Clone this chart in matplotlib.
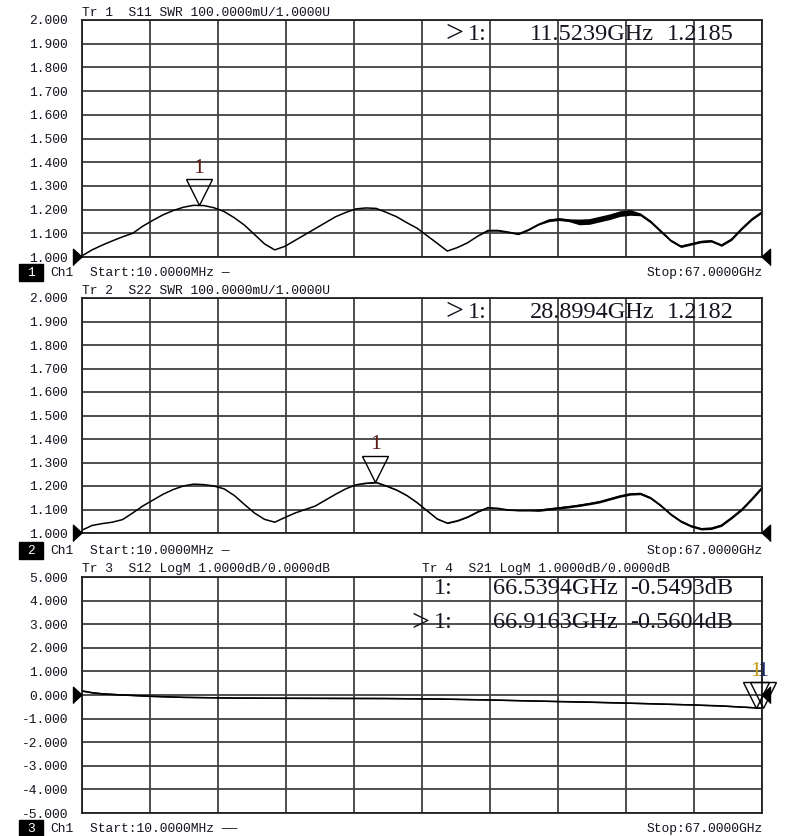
import numpy as np
import matplotlib
matplotlib.use("Agg")
import matplotlib.pyplot as plt
from matplotlib.transforms import ScaledTranslation
from matplotlib.patches import Rectangle

W, H = 785, 836
MONO = "Liberation Mono"
SERIF = "Liberation Serif"
TXT = "#141420"

# ---------------- data ----------------
freq_ghz = [0.01] + list(range(1, 68))

s11_swr = [1.005, 1.030, 1.050, 1.068, 1.085, 1.100, 1.130, 1.155, 1.178, 1.196,
           1.210, 1.218, 1.217, 1.208, 1.192, 1.166, 1.135, 1.095, 1.055, 1.030,
           1.045, 1.070, 1.095, 1.120, 1.145, 1.170, 1.188, 1.203, 1.207, 1.205,
           1.188, 1.170, 1.145, 1.122, 1.090, 1.058, 1.025, 1.040, 1.060, 1.088,
           1.112, 1.112, 1.105, 1.097, 1.115, 1.138, 1.155, 1.160, 1.155, 1.148,
           1.150, 1.160, 1.170, 1.183, 1.188, 1.180, 1.150, 1.110, 1.070, 1.045,
           1.055, 1.065, 1.068, 1.050, 1.075, 1.120, 1.160, 1.190]
s11_noise = [0.0] * 40 + [0.003] * 6 + [0.006] * 3 + [0.012] * 6 + [0.006] * 3 + [0.005] * 10

s22_swr = [1.012, 1.032, 1.040, 1.046, 1.057, 1.085, 1.115, 1.140, 1.165, 1.185,
           1.200, 1.208, 1.206, 1.200, 1.188, 1.160, 1.122, 1.085, 1.058, 1.046,
           1.066, 1.085, 1.100, 1.115, 1.140, 1.165, 1.188, 1.205, 1.212, 1.215,
           1.200, 1.183, 1.160, 1.130, 1.095, 1.060, 1.042, 1.052, 1.068, 1.090,
           1.108, 1.105, 1.098, 1.096, 1.096, 1.097, 1.102, 1.107, 1.112, 1.118,
           1.125, 1.133, 1.145, 1.157, 1.166, 1.168, 1.150, 1.118, 1.080, 1.050,
           1.030, 1.018, 1.020, 1.033, 1.065, 1.100, 1.145, 1.193]
s22_noise = [0.0] * 28 + [0.002] * 17 + [0.005] * 23

logm_freq = [0.01, 1, 2, 4, 7, 10, 15, 20, 25, 30, 35, 40, 45, 50, 55, 60, 63, 66.54, 66.92, 67]
s12_db = [0.18, 0.10, 0.05, 0.00, -0.06, -0.10, -0.13, -0.14, -0.14, -0.15,
          -0.17, -0.21, -0.26, -0.30, -0.36, -0.42, -0.46, -0.549, -0.560, -0.560]
s21_db = [0.16, 0.09, 0.05, 0.00, -0.06, -0.10, -0.13, -0.14, -0.15, -0.15,
          -0.17, -0.21, -0.26, -0.31, -0.36, -0.42, -0.47, -0.549, -0.560, -0.560]

swr_ticks = [2.0, 1.9, 1.8, 1.7, 1.6, 1.5, 1.4, 1.3, 1.2, 1.1, 1.0]
db_ticks = [5.0, 4.0, 3.0, 2.0, 1.0, 0.0, -1.0, -2.0, -3.0, -4.0, -5.0]

headers = ["Tr 1  S11 SWR 100.0000mU/1.0000U",
           "Tr 2  S22 SWR 100.0000mU/1.0000U",
           "Tr 3  S12 LogM 1.0000dB/0.0000dB"]
header4 = "Tr 4  S21 LogM 1.0000dB/0.0000dB"

m1_freq, m1_val = 11.5239, 1.2185
m2_freq, m2_val = 28.8994, 1.2182
m3_freq, m3_val = 66.5394, -0.5493
m4_freq, m4_val = 66.9163, -0.5604

f_start, f_stop = 0.01, 67.0

# ---------------- layout helpers ----------------
fig = plt.figure(figsize=(W / 100, H / 100), dpi=100)
fig.patch.set_facecolor("white")


def rect(l, t, r, b):
    return [l / W, 1 - b / H, (r - l) / W, (b - t) / H]


def fx(x):
    return x / W


def fy(y):
    return 1 - y / H


panels = [(20, 257), (298, 533), (577, 813)]
axes = []
for i, (t, b) in enumerate(panels):
    ax = fig.add_axes(rect(82, t, 762, b))
    ax.set_xlim(f_start, f_stop)
    ax.set_xticks(np.linspace(f_start, f_stop, 11))
    ax.set_xticklabels([])
    if i < 2:
        ax.set_ylim(1.0, 2.0)
        ax.set_yticks(swr_ticks)
        ax.set_yticklabels([f"{v:.3f}" for v in swr_ticks])
    else:
        ax.set_ylim(-5.0, 5.0)
        ax.set_yticks(db_ticks)
        ax.set_yticklabels([f"{v:.3f}" for v in db_ticks])
    ax.tick_params(length=0, pad=10, labelsize=9.4, labelcolor=TXT)
    for lab in ax.get_yticklabels():
        lab.set_fontfamily(MONO)
    ax.grid(True, color="#404040", lw=1.3)
    ax.set_axisbelow(True)
    for s in ax.spines.values():
        s.set_color("#202020")
        s.set_linewidth(1.3)
    axes.append(ax)

ax1, ax2, ax3 = axes

# traces
ax1.fill_between(freq_ghz, np.array(s11_swr) - np.array(s11_noise),
                 np.array(s11_swr) + np.array(s11_noise), color="black", lw=0)
ax1.plot(freq_ghz, s11_swr, color="black", lw=1.1)
ax2.fill_between(freq_ghz, np.array(s22_swr) - np.array(s22_noise),
                 np.array(s22_swr) + np.array(s22_noise), color="black", lw=0)
ax2.plot(freq_ghz, s22_swr, color="black", lw=1.1)
ax3.plot(logm_freq, s12_db, color="black", lw=1.1)
ax3.plot(logm_freq, s21_db, color="black", lw=1.0)

# marker triangles
ms = 18.5


def marker(ax, f, v, label_color, dx=0.0):
    off = ScaledTranslation(dx / 72, ms / 2 / 72, fig.dpi_scale_trans)
    ax.plot([f], [v], marker="v", ms=ms, mfc="none", mec="black", mew=1.0,
            transform=ax.transData + off, clip_on=False, zorder=5)
    toff = ScaledTranslation(dx / 72, (ms + 8) / 72, fig.dpi_scale_trans)
    ax.text(f, v, "1", transform=ax.transData + toff, ha="center", va="center",
            fontsize=16, family=SERIF, color=label_color, zorder=6, clip_on=False)


marker(ax1, m1_freq, m1_val, "#5a1c10")
marker(ax2, m2_freq, m2_val, "#5a1c10")
marker(ax3, m3_freq, m3_val, "#c89a10", dx=-1.0)
marker(ax3, m4_freq, m4_val, "#1a2a6a", dx=1.0)

# reference pointers
for ax, ref in [(ax1, 1.0), (ax2, 1.0), (ax3, 0.0)]:
    offl = ScaledTranslation(-9.5 / 100, 0, fig.dpi_scale_trans)
    ax.plot([f_start], [ref], marker=[(0, -1), (0, 1), (1.1, 0)], ms=13, color="black",
            transform=ax.transData + offl, clip_on=False, zorder=6)
    offr = ScaledTranslation(-1.0 / 100, 0, fig.dpi_scale_trans)
    ax.plot([f_stop], [ref], marker=[(1.1, -1), (1.1, 1), (0, 0)], ms=13, color="black",
            transform=ax.transData + offr, clip_on=False, zorder=6)

# headers
head_y = [13, 291, 569]
for txt, y in zip(headers, head_y):
    fig.text(fx(82), fy(y), txt, family=MONO, fontsize=9.4, color=TXT, va="center", ha="left")
fig.text(fx(422), fy(head_y[2]), header4, family=MONO, fontsize=9.4, color=TXT,
         va="center", ha="left")

# footers
foot_y = [273, 551, 829]
dashes = ["\u2014", "\u2014", "\u2014\u2014"]
for i, y in enumerate(foot_y):
    fig.patches.append(Rectangle((fx(19), fy(y + 8)), (43 - 19) / W, 17 / H,
                                 transform=fig.transFigure, color="black"))
    fig.text(fx(31), fy(y), str(i + 1), family=MONO, fontsize=9.4, color="white",
             ha="center", va="center")
    fig.text(fx(50), fy(y), "Ch1", family=MONO, fontsize=9.4, color=TXT, ha="left", va="center")
    fig.text(fx(90), fy(y), "Start:10.0000MHz " + dashes[i], family=MONO, fontsize=9.4,
             color=TXT, ha="left", va="center")
    fig.text(fx(763), fy(y), "Stop:67.0000GHz", family=MONO, fontsize=9.4, color=TXT,
             ha="right", va="center")

# marker readouts
RO = 17.5


def readout(y, xa, active, xf, freq, xv, val):
    if active:
        fig.text(fx(xa - 23), fy(y), ">", family=SERIF, fontsize=23, color=TXT,
                 ha="left", va="center")
    fig.text(fx(xa), fy(y), "1:", family=SERIF, fontsize=RO, color=TXT,
             ha="left", va="center")
    fig.text(fx(xf), fy(y), freq, family=SERIF, fontsize=RO, color=TXT,
             ha="left", va="center")
    fig.text(fx(xv), fy(y), val, family=SERIF, fontsize=RO, color=TXT,
             ha="left", va="center")


readout(34, 468, True, 530, f"{m1_freq:.4f}GHz", 667, f"{m1_val:.4f}")
readout(312, 468, True, 530, f"{m2_freq:.4f}GHz", 667, f"{m2_val:.4f}")
readout(589, 434, False, 493, f"{m3_freq:.4f}GHz", 630, f"{m3_val:.4f}dB")
readout(623, 434, True, 493, f"{m4_freq:.4f}GHz", 630, f"{m4_val:.4f}dB")

fig.savefig("out.png", dpi=100, facecolor="white")
